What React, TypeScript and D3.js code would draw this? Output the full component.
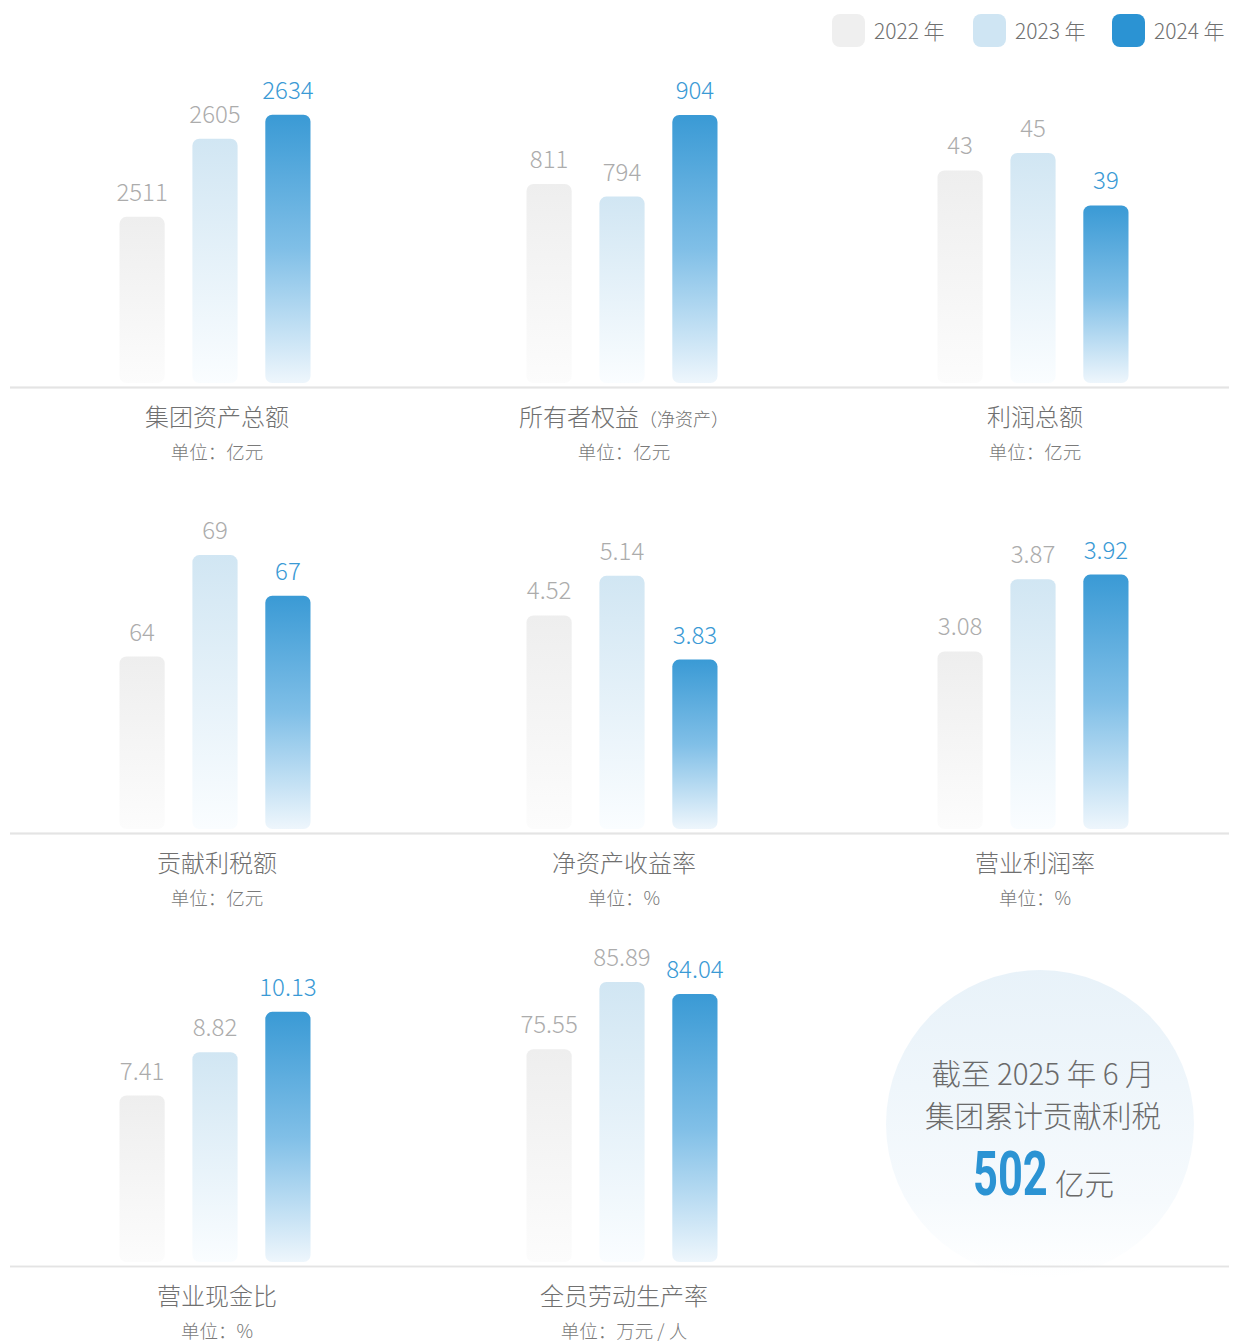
import React from 'react';
import * as d3 from 'd3';

const years = ['2022 年', '2023 年', '2024 年'];

const titles = ['集团资产总额', '所有者权益', '利润总额', '贡献利税额', '净资产收益率', '营业利润率', '营业现金比', '全员劳动生产率'];
const titleNotes = ['', '（净资产）', '', '', '', '', '', ''];
const units = ['亿元', '亿元', '亿元', '亿元', '%', '%', '%', '万元 / 人'];

const v2022 = [2511, 811, 43, 64, 4.52, 3.08, 7.41, 75.55];
const v2023 = [2605, 794, 45, 69, 5.14, 3.87, 8.82, 85.89];
const v2024 = [2634, 904, 39, 67, 3.83, 3.92, 10.13, 84.04];
const labels2022 = ['2511', '811', '43', '64', '4.52', '3.08', '7.41', '75.55'];
const labels2023 = ['2605', '794', '45', '69', '5.14', '3.87', '8.82', '85.89'];
const labels2024 = ['2634', '904', '39', '67', '3.83', '3.92', '10.13', '84.04'];

// value axis bounds per panel (the bars do not start from zero)
const axisMin = [2311, 543, 18.7, 55.5, 1.18, 1.14, 2.0, 42.8];
const axisMax = [2648, 920, 50.7, 69.3, 5.56, 4.2, 11.1, 85.9];

const totalLines = ['截至 2025 年 6 月', '集团累计贡献利税'];
const totalValue = '502';
const totalUnit = '亿元';

const W = 1233;
const H = 1342;
const FONT = '"Noto Sans CJK SC", "Noto Sans", sans-serif';
const colCenters = [215, 622, 1033];
const rowBase = [383, 829, 1262];
const barSpan = 280;
const fills = ['url(#g2022)', 'url(#g2023)', 'url(#g2024)'];
const labelColors = ['#acacac', '#acacac', '#3a9ad5'];
const legendColors = ['#efefef', '#cfe5f3', '#2b93d3'];

const App = () => {
  const series = [v2022, v2023, v2024];
  const seriesLabels = [labels2022, labels2023, labels2024];

  const panels = titles.map((title, i) => {
    const cx = colCenters[i % 3];
    const base = rowBase[Math.floor(i / 3)];
    const x = d3.scaleBand().domain(years).range([cx - 95.5, cx + 95.5]).paddingInner(0.38).paddingOuter(0);
    const y = d3.scaleLinear().domain([axisMin[i], axisMax[i]]).range([base, base - barSpan]);
    return (
      <g key={title}>
        {years.map((yr, k) => {
          const val = series[k][i];
          const top = y(val);
          return (
            <g key={yr}>
              <rect x={x(yr)} y={top} width={x.bandwidth()} height={base - top} rx={7} fill={fills[k]} />
              <text x={x(yr)! + x.bandwidth() / 2} y={top - 16} textAnchor="middle" fontSize={24} fill={labelColors[k]} fontWeight={300}>
                {seriesLabels[k][i]}
              </text>
            </g>
          );
        })}
        <line x1={10} x2={1229} y1={base + 4.5} y2={base + 4.5} stroke="#e4e4e4" strokeWidth={1.5} />
        <text x={cx + 2} y={base + 43} textAnchor="middle" fontSize={24} fill="#707070" fontWeight={300}>
          {title}
          {titleNotes[i] && <tspan fontSize={18}>{titleNotes[i]}</tspan>}
        </text>
        <text x={cx + 2} y={base + 76} textAnchor="middle" fontSize={18.5} fill="#7a7a7a" fontWeight={300}>
          {'单位：' + units[i]}
        </text>
      </g>
    );
  });

  const legendX = [832, 973, 1112];

  return (
    <div style={{ position: 'absolute', left: 0, top: 0 }}>
      <svg width={W} height={H} style={{ display: 'block', fontFamily: FONT }}>
        <defs>
          <linearGradient id="g2022" x1="0" y1="0" x2="0" y2="1">
            <stop offset="0" stopColor="#eeeeee" />
            <stop offset="1" stopColor="#fcfcfc" />
          </linearGradient>
          <linearGradient id="g2023" x1="0" y1="0" x2="0" y2="1">
            <stop offset="0" stopColor="#d1e6f3" />
            <stop offset="1" stopColor="#fafdff" />
          </linearGradient>
          <linearGradient id="g2024" x1="0" y1="0" x2="0" y2="1">
            <stop offset="0" stopColor="#3a9ad5" />
            <stop offset="0.5" stopColor="#80bfe7" />
            <stop offset="1" stopColor="#eef6fc" />
          </linearGradient>
          <linearGradient id="gCircle" x1="0" y1="0" x2="0" y2="1">
            <stop offset="0" stopColor="#e8f2f9" />
            <stop offset="0.75" stopColor="#f6fafd" />
            <stop offset="1" stopColor="#ffffff" />
          </linearGradient>
        </defs>

        <circle cx={1040} cy={1124} r={154} fill="url(#gCircle)" />

        {years.map((yr, k) => (
          <g key={yr}>
            <rect x={legendX[k]} y={14} width={33} height={33} rx={8} fill={legendColors[k]} />
            <text x={legendX[k] + 42} y={39} fontSize={21} fill="#707070" fontWeight={300}>{yr}</text>
          </g>
        ))}

        {panels}

        {totalLines.map((t, i) => (
          <text key={t} x={1043} y={1085 + i * 42} textAnchor="middle" fontSize={29.5} fill="#6a6a6a" fontWeight={300}>{t}</text>
        ))}
        <text x={973} y={1195} fontSize={62} fontWeight={700} fill="#2b93d3" fontFamily="Roboto, sans-serif"
          transform="translate(973 0) scale(0.7 1) translate(-973 0)">
          {totalValue}
        </text>
        <text x={1055} y={1195} fontSize={29.5} fill="#6a6a6a" fontWeight={300}>{totalUnit}</text>
      </svg>
    </div>
  );
};

export default App;
